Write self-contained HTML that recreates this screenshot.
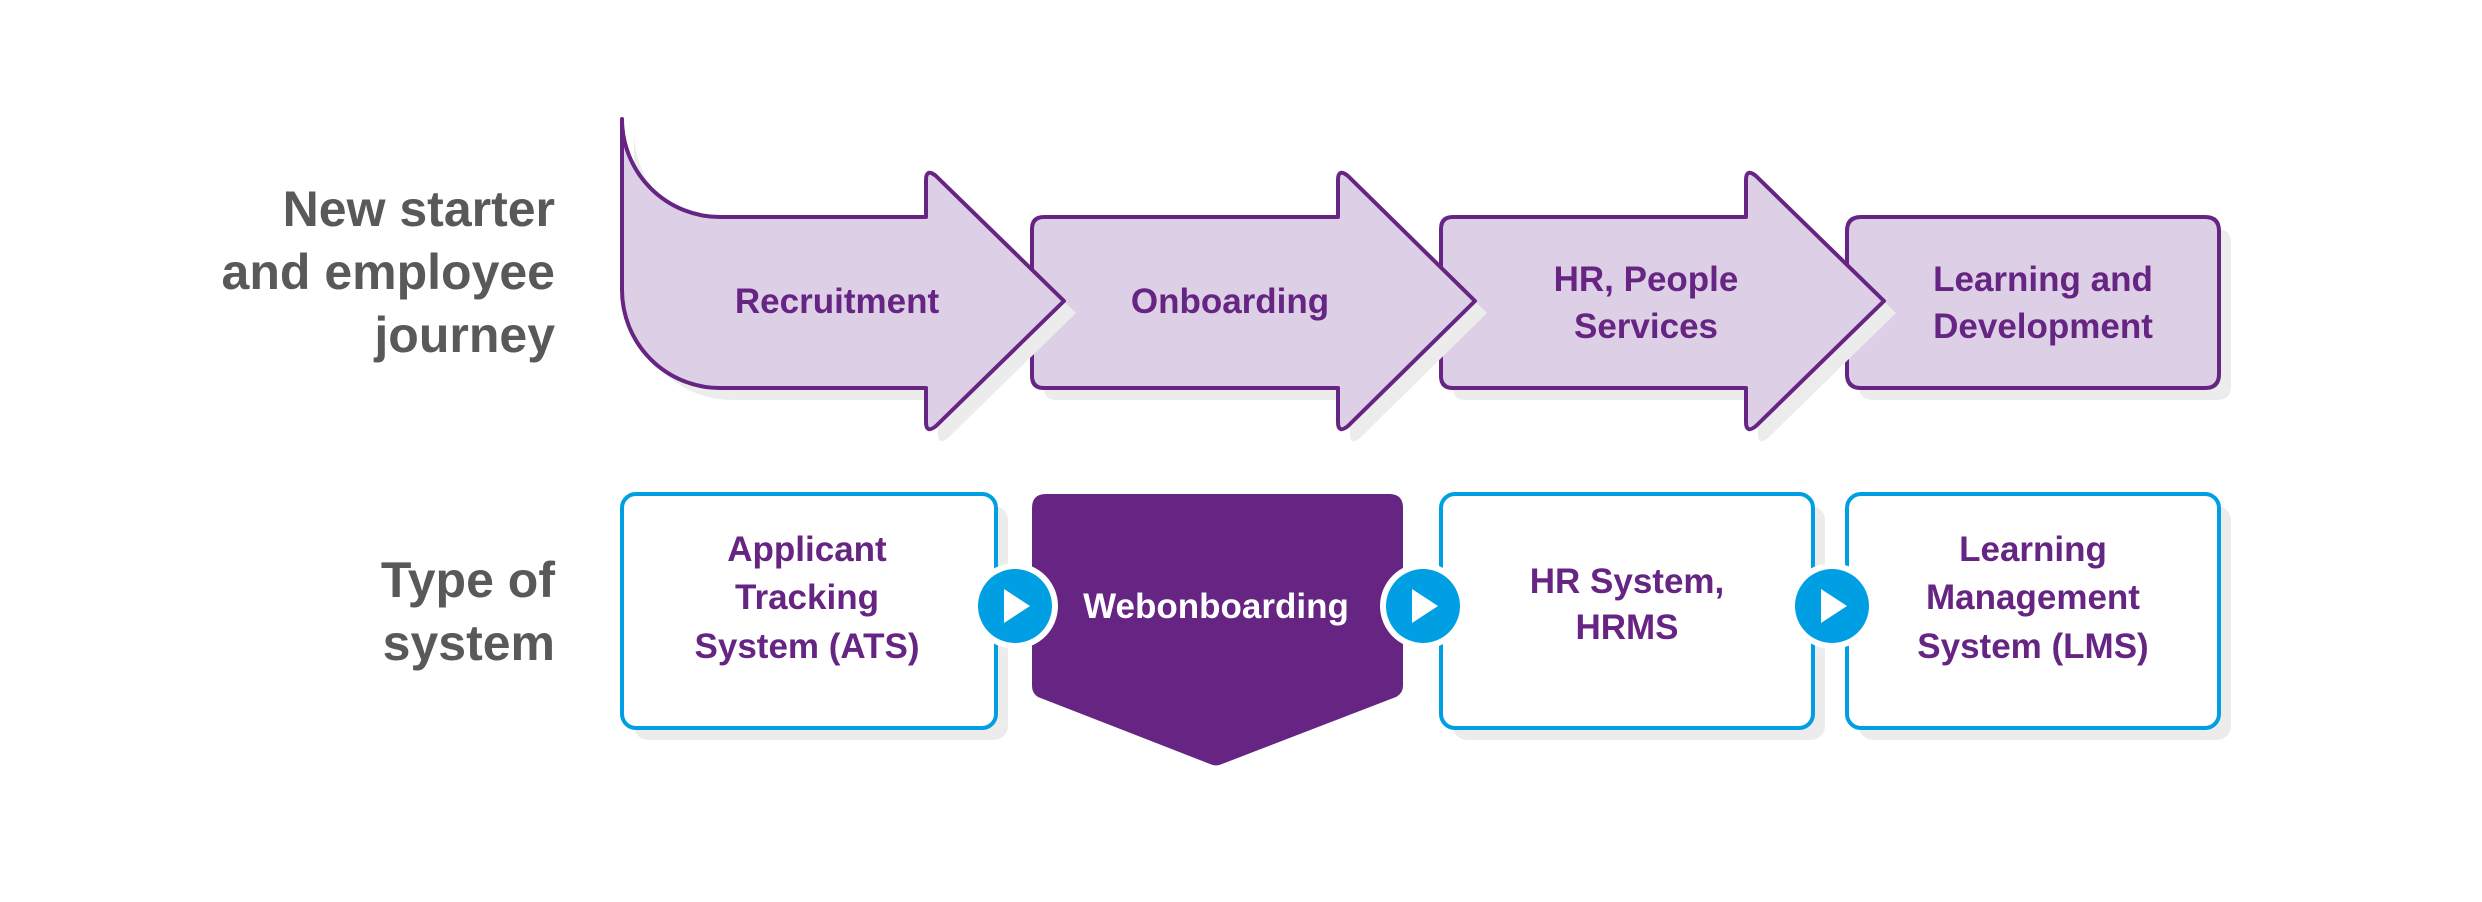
<!DOCTYPE html>
<html><head><meta charset="utf-8"><style>
html,body{margin:0;padding:0;background:#fff;width:2482px;height:902px;overflow:hidden}
svg{display:block}
text{font-family:"Liberation Sans",sans-serif;font-weight:bold}
</style></head><body>
<svg width="2482" height="902" viewBox="0 0 2482 902" xmlns="http://www.w3.org/2000/svg">
<defs>
<path id="p4" d="M1861,217 L2205,217 Q2219,217 2219,231 L2219,374 Q2219,388 2205,388 L1861,388 Q1847,388 1847,374 L1847,231 Q1847,217 1861,217 Z"/>
<path id="p3" d="M1453,217 L1746,217 L1746,180 Q1746,168 1756,176 L1884,301 L1756,426 Q1746,434 1746,422 L1746,388 L1453,388 Q1441,388 1441,376 L1441,229 Q1441,217 1453,217 Z"/>
<path id="p2" d="M1044,217 L1338,217 L1338,180 Q1338,168 1348,176 L1475,301 L1348,426 Q1338,434 1338,422 L1338,388 L1044,388 Q1032,388 1032,376 L1032,229 Q1032,217 1044,217 Z"/>
<path id="p1" d="M622,119 A98,98 0 0 0 720,217 L926,217 L926,180 Q926,168 936,176 L1064,301 L936,426 Q926,434 926,422 L926,388 L720,388 A98,98 0 0 1 622,290 Z"/>
</defs>
<g fill="#595959" font-size="50" text-anchor="end">
<text x="555" y="226">New starter</text>
<text x="555" y="289">and employee</text>
<text x="555" y="352">journey</text>
<text x="555" y="597">Type of</text>
<text x="555" y="660">system</text>
</g>
<g stroke-linejoin="round">
<use href="#p4" transform="translate(12,12)" fill="#ececec"/>
<use href="#p4" fill="#ddd0e6" stroke="#662483" stroke-width="4"/>
<use href="#p3" transform="translate(12,12)" fill="#ececec"/>
<use href="#p3" fill="#ddd0e6" stroke="#662483" stroke-width="4"/>
<use href="#p2" transform="translate(12,12)" fill="#ececec"/>
<use href="#p2" fill="#ddd0e6" stroke="#662483" stroke-width="4"/>
<use href="#p1" transform="translate(12,12)" fill="#ececec"/>
<use href="#p1" fill="#ddd0e6" stroke="#662483" stroke-width="4"/>
</g>
<g fill="#662483" font-size="35" text-anchor="middle">
<text x="837" y="313">Recruitment</text>
<text x="1230" y="313">Onboarding</text>
<text x="1646" y="291">HR, People</text>
<text x="1646" y="338">Services</text>
<text x="2043" y="291">Learning and</text>
<text x="2043" y="338">Development</text>
</g>
<g fill="#ececec">
<rect x="634" y="506" width="374" height="234" rx="14"/>
<rect x="1453" y="506" width="372" height="234" rx="14"/>
<rect x="1859" y="506" width="372" height="234" rx="14"/>
</g>
<g fill="#fff" stroke="#009fe3" stroke-width="4">
<rect x="622" y="494" width="374" height="234" rx="14"/>
<rect x="1441" y="494" width="372" height="234" rx="14"/>
<rect x="1847" y="494" width="372" height="234" rx="14"/>
</g>
<path d="M1046,494 L1389,494 Q1403,494 1403,508 L1403,686 Q1403,693 1396,697 L1222,764 Q1216,767 1210,764 L1038,697 Q1032,693 1032,686 L1032,508 Q1032,494 1046,494 Z" fill="#662483"/>
<g fill="#662483" font-size="35" text-anchor="middle">
<text x="807" y="561">Applicant</text>
<text x="807" y="609">Tracking</text>
<text x="807" y="658">System (ATS)</text>
<text x="1627" y="593">HR System,</text>
<text x="1627" y="639">HRMS</text>
<text x="2033" y="561">Learning</text>
<text x="2033" y="609">Management</text>
<text x="2033" y="658">System (LMS)</text>
</g>
<text x="1216" y="618" fill="#fff" font-size="35" text-anchor="middle">Webonboarding</text>
<g>
<circle cx="1015" cy="606" r="43" fill="#fff"/><circle cx="1015" cy="606" r="37" fill="#009fe3"/>
<path d="M1004,589 L1030,606 L1004,623 Z" fill="#fff"/>
<circle cx="1423" cy="606" r="43" fill="#fff"/><circle cx="1423" cy="606" r="37" fill="#009fe3"/>
<path d="M1412,589 L1438,606 L1412,623 Z" fill="#fff"/>
<circle cx="1832" cy="606" r="43" fill="#fff"/><circle cx="1832" cy="606" r="37" fill="#009fe3"/>
<path d="M1821,589 L1847,606 L1821,623 Z" fill="#fff"/>
</g>
</svg>
</body></html>
